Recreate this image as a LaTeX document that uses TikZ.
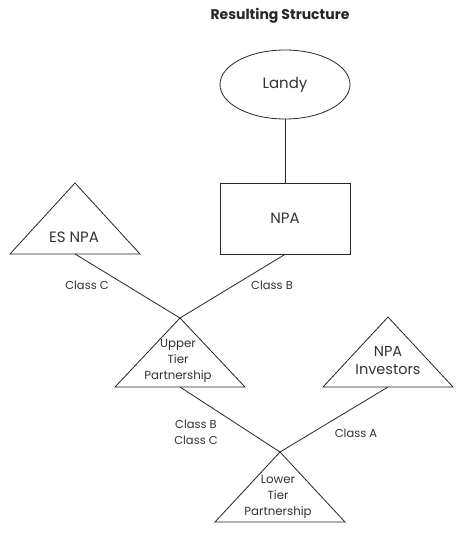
\documentclass[tikz,border=0pt]{standalone}
\usepackage{fontspec}
\setmainfont{Poppins}
\usetikzlibrary{shapes.geometric}
\tikzset{
  ln/.style={draw=black!85, line width=0.8pt},
  lbl/.style={font=\fontsize{11.5}{16}\selectfont, text=black!80, inner sep=0pt},
  big/.style={font=\fontsize{15}{18}\selectfont, text=black!80, inner sep=0pt},
  tri/.style={font=\fontsize{11.8}{16}\selectfont, text=black!80, inner sep=0pt, align=center},
}
\begin{document}
\begin{tikzpicture}[x=1pt,y=-1pt]
\useasboundingbox (0,0) rectangle (466,535);
\fill[white] (0,0) rectangle (466,535);
% title
\node[font=\fontsize{14}{16}\selectfont\bfseries, text=black!85, inner sep=0pt] (title) at (280,16) {Resulting Structure};
% Landy
\node[ln, ellipse, minimum width=130pt, minimum height=69pt, inner sep=0pt, big] (landy) at (285,84.5) {Landy};
% NPA
\node[ln, rectangle, minimum width=130pt, minimum height=71pt, inner sep=0pt, big] (npa) at (285,218.5) {NPA};
\draw[ln] (landy.south) -- (npa.north);
% ES NPA triangle
\coordinate (esA) at (75,183);
\coordinate (esB) at (75,254);
\draw[ln, line join=miter] (esA) -- (140,254) -- (10,254) -- cycle;
\node[big] (esnpa) at (74,237) {ES NPA};
% Upper tier triangle
\coordinate (utA) at (180,318);
\coordinate (utB) at (180,387);
\draw[ln] (utA) -- (245,387) -- (115,387) -- cycle;
\node[tri] (ut) at (178,361) {Upper\\Tier\\Partnership};
% NPA investors triangle
\coordinate (niA) at (388,317);
\coordinate (niB) at (388,387);
\draw[ln] (niA) -- (453,387) -- (323,387) -- cycle;
\node[big, align=center, font=\fontsize{14.5}{18}\selectfont] (ni) at (388,361) {NPA\\Investors};
% Lower tier triangle
\coordinate (ltA) at (280,452);
\coordinate (ltB) at (280,522);
\draw[ln] (ltA) -- (345,522) -- (215,522) -- cycle;
\node[tri] (lt) at (278,497) {Lower\\Tier\\Partnership};
% connectors
\draw[ln] (esB) -- (utA);
\draw[ln] (npa.south) -- (utA);
\draw[ln] (utB) -- (ltA);
\draw[ln] (niB) -- (ltA);
% labels
\node[lbl] (lc) at (87,285) {Class C};
\node[lbl] (lb) at (272,285) {Class B};
\node[lbl, align=center] (lbc) at (196,432) {Class B\\Class C};
\node[lbl] (la) at (356,433) {Class A};
\end{tikzpicture}
\end{document}
